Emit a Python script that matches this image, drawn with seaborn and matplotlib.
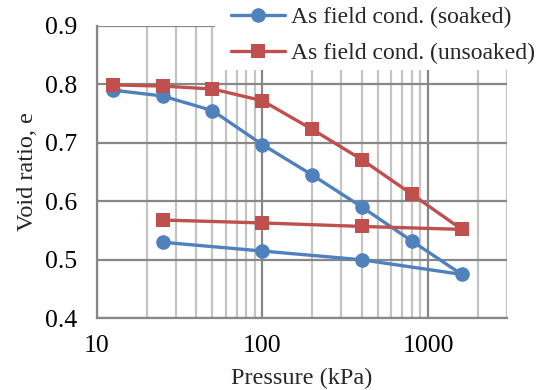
import matplotlib
matplotlib.use("Agg")
import matplotlib.pyplot as plt
from matplotlib.patches import Rectangle
from matplotlib.ticker import FixedLocator, NullFormatter, FixedFormatter
import numpy as np
import pandas as pd
import seaborn as sns

# Oedometer test: loading then unloading path (kPa, void ratio)
pressure_soaked = [12.5, 25, 50, 100, 200, 400, 800, 1600, 400, 100, 25]
void_soaked = [0.790, 0.780, 0.755, 0.697, 0.645, 0.590, 0.532, 0.475, 0.500, 0.515, 0.530]

pressure_unsoaked = [12.5, 25, 50, 100, 200, 400, 800, 1600, 400, 100, 25]
void_unsoaked = [0.799, 0.797, 0.792, 0.772, 0.723, 0.671, 0.612, 0.552, 0.557, 0.563, 0.568]

series_names = ["As field cond. (soaked)", "As field cond. (unsoaked)"]
x_ticks = [10, 100, 1000]
x_tick_labels = ["10", "100", "1000"]
y_ticks = [0.4, 0.5, 0.6, 0.7, 0.8, 0.9]

df = pd.concat([
    pd.DataFrame({"Pressure": pressure_soaked, "e": void_soaked, "series": series_names[0]}),
    pd.DataFrame({"Pressure": pressure_unsoaked, "e": void_unsoaked, "series": series_names[1]}),
], ignore_index=True)

sns.set_theme(style="white")
plt.rcParams["font.family"] = ["Liberation Serif", "DejaVu Serif"]

fig = plt.figure(figsize=(5.4, 3.9), dpi=100)
ax = fig.add_axes([96.7 / 540, (390 - 318.3) / 390, (507 - 96.7) / 540, (318.3 - 25.8) / 390])

blue = "#4F81BD"
red = "#C0504D"
sns.lineplot(data=df, x="Pressure", y="e", hue="series", style="series",
             palette={series_names[0]: blue, series_names[1]: red},
             markers={series_names[0]: "o", series_names[1]: "s"},
             dashes=False, sort=False, estimator=None, legend=False,
             linewidth=2.4, markersize=10.5, markeredgewidth=0, ax=ax, zorder=5)

ax.set_xscale("log")
ax.set_xlim(10, 3000)
ax.set_ylim(0.4, 0.9)

major_grid = "#878787"
minor_grid = "#C4C4C4"
ax.xaxis.set_major_locator(FixedLocator(x_ticks))
ax.xaxis.set_major_formatter(FixedFormatter(x_tick_labels))
minor = [m * d for d in (10, 100, 1000) for m in range(2, 10) if m * d <= 3000]
ax.xaxis.set_minor_locator(FixedLocator(minor))
ax.xaxis.set_minor_formatter(NullFormatter())
ax.set_yticks(y_ticks)
ax.set_yticklabels([f"{v:.1f}" for v in y_ticks])

ax.grid(True, which="major", axis="both", color=major_grid, linewidth=1.6)
ax.grid(True, which="minor", axis="x", color=minor_grid, linewidth=1.6)
ax.set_axisbelow(True)

for side in ("top", "right"):
    ax.spines[side].set_visible(False)
for side in ("left", "bottom"):
    ax.spines[side].set_color(major_grid)
    ax.spines[side].set_linewidth(1.6)

ax.tick_params(axis="both", which="major", direction="out", length=6, width=1.6,
               color=major_grid, labelsize=18.5, labelcolor="black")
ax.tick_params(axis="x", which="major", pad=6)
ax.tick_params(axis="y", which="major", pad=8)
ax.tick_params(axis="x", which="minor", length=0)

ax.set_xlabel("Pressure (kPa)", fontsize=17.5, labelpad=8)
ax.set_ylabel("Void ratio, e", fontsize=17.5, labelpad=5)

# white area behind the legend
fig.patches.append(Rectangle((215 / 540, 1 - 70 / 390), 325 / 540, 70 / 390,
                             transform=fig.transFigure, facecolor="white",
                             edgecolor="none", zorder=2))

fig.legend(handles=ax.lines[:2], labels=series_names, loc="upper left",
           bbox_to_anchor=(227 / 540, 1.0 - 3 / 390), frameon=False, fontsize=17,
           handlelength=2.3, handletextpad=0.25, labelspacing=0.6,
           borderpad=0.15, borderaxespad=0.0)

fig.savefig("out.png", dpi=100)
